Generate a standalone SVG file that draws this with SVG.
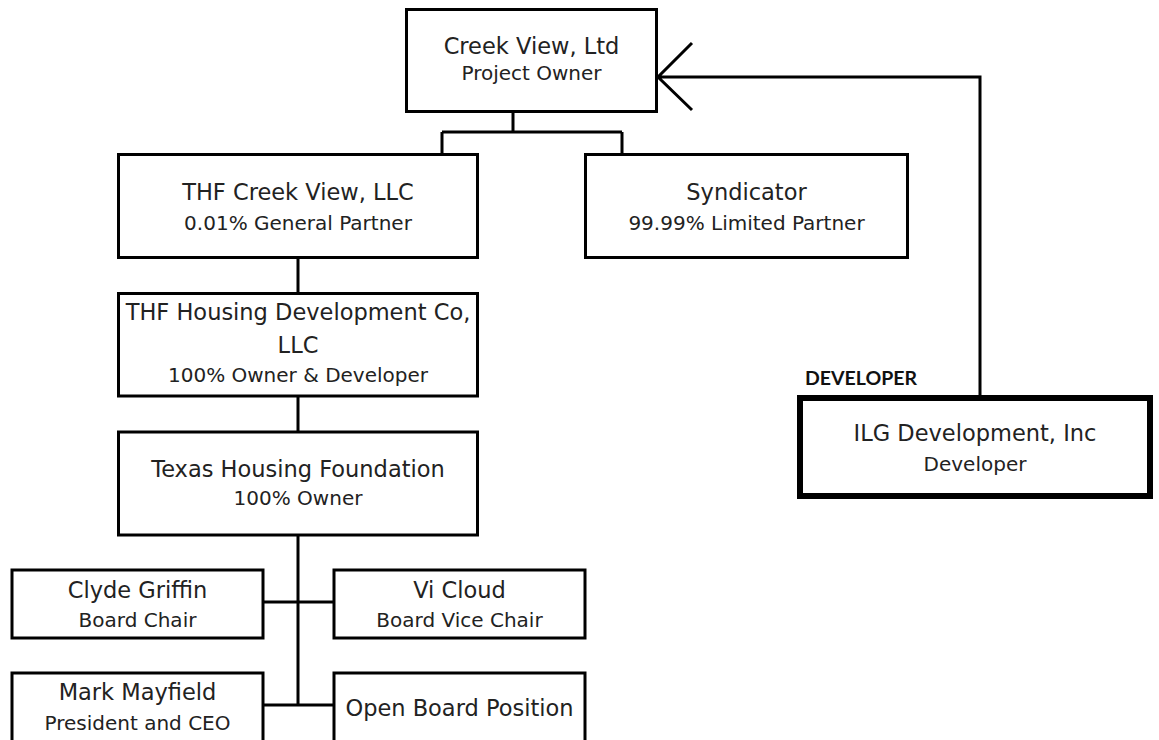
<svg xmlns="http://www.w3.org/2000/svg" width="1159" height="740" viewBox="0 0 1159 740">
<style>
.box{fill:#fff;stroke:#000;stroke-width:3}
.thick{fill:#fff;stroke:#000;stroke-width:6}
.t1{font-family:"DejaVu Sans",sans-serif;font-size:22.5px;fill:#222;text-anchor:middle}
.t2{font-family:"DejaVu Sans",sans-serif;font-size:20px;fill:#222;text-anchor:middle}
.lbl{font-family:Lato,"Liberation Sans",sans-serif;font-size:19.5px;font-weight:bold;fill:#111}
.c{fill:none;stroke:#000;stroke-width:3}
</style>
<rect width="1159" height="740" fill="#fff"/>
<g id="connectors">
<path class="c" d="M513 111.5V132M442 132H622M442 132V154.5M622 132V154.5"/>
<path class="c" d="M298 257.5V293.5M298 396V432M298 535V705M263 602H334M263 705H334"/>
<path class="c" d="M980 398V77H658M692 43L658 77L692 110"/>
</g>
<g id="creek-view">
<rect class="box" x="406.5" y="9.5" width="250" height="102"/>
<text class="t1" x="531.5" y="54">Creek View, Ltd</text>
<text class="t2" x="531.5" y="80">Project Owner</text>
</g>
<g id="thf-creek-view">
<rect class="box" x="118.5" y="154.5" width="359" height="103"/>
<text class="t1" x="298" y="200">THF Creek View, LLC</text>
<text class="t2" x="298" y="230">0.01% General Partner</text>
</g>
<g id="syndicator">
<rect class="box" x="585.5" y="154.5" width="322" height="103"/>
<text class="t1" x="746.5" y="200">Syndicator</text>
<text class="t2" x="746.5" y="230">99.99% Limited Partner</text>
</g>
<g id="thf-housing">
<rect class="box" x="118.5" y="293.5" width="359" height="102.5"/>
<text class="t1" x="298" y="320">THF Housing Development Co,</text>
<text class="t1" x="298" y="353">LLC</text>
<text class="t2" x="298" y="382">100% Owner &amp; Developer</text>
</g>
<g id="texas-housing">
<rect class="box" x="118.5" y="432" width="359" height="103"/>
<text class="t1" x="298" y="477">Texas Housing Foundation</text>
<text class="t2" x="298" y="505">100% Owner</text>
</g>
<g id="ilg">
<text class="lbl" x="805" y="385">DEVELOPER</text>
<rect class="thick" x="800" y="398" width="350" height="98"/>
<text class="t1" x="975" y="441">ILG Development, Inc</text>
<text class="t2" x="975" y="471">Developer</text>
</g>
<g id="clyde-griffin">
<rect class="box" x="12" y="570" width="251" height="68"/>
<text class="t1" x="137.5" y="598">Clyde Griffin</text>
<text class="t2" x="137.5" y="627">Board Chair</text>
</g>
<g id="vi-cloud">
<rect class="box" x="334" y="570" width="251" height="68"/>
<text class="t1" x="459.5" y="598">Vi Cloud</text>
<text class="t2" x="459.5" y="627">Board Vice Chair</text>
</g>
<g id="mark-mayfield">
<rect class="box" x="12" y="673" width="251" height="90"/>
<text class="t1" x="137.5" y="700">Mark Mayfield</text>
<text class="t2" x="137.5" y="730">President and CEO</text>
</g>
<g id="open-board">
<rect class="box" x="334" y="673" width="251" height="90"/>
<text class="t1" x="459.5" y="716">Open Board Position</text>
</g>
</svg>
